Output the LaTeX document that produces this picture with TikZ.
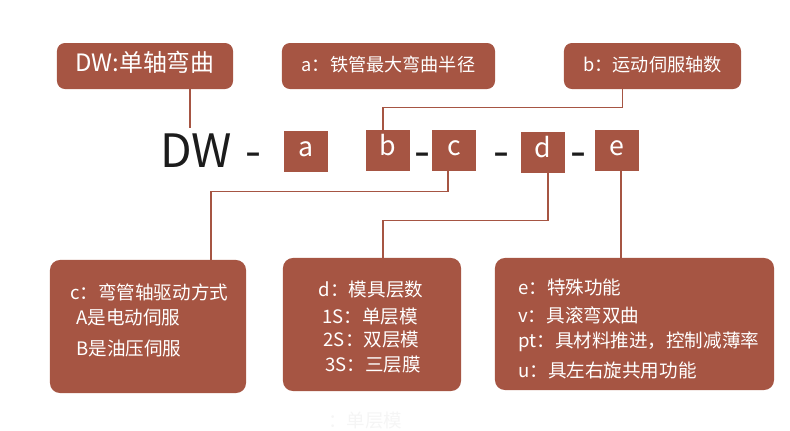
\documentclass[tikz,border=0pt]{standalone}
\usepackage{fontspec}
\setmainfont{Noto Sans CJK SC}
\definecolor{brick}{RGB}{166,85,67}
\definecolor{ink}{RGB}{28,28,28}
\tikzset{
  tag/.style={fill=brick, rounded corners=0.2cm, text=white, inner sep=0pt,
    minimum height=1.15cm, text height=0.88em, text depth=0.12em,
    font=\fontsize{12.9pt}{15pt}\selectfont},
  letter/.style={fill=brick, text=white, inner sep=0pt, minimum width=1.1cm,
    minimum height=1.025cm, text height=0.88em, text depth=0.12em,
    font=\fontsize{19pt}{22pt}\selectfont},
  code/.style={text=ink, inner sep=0pt, anchor=base, font=\fontsize{32.7pt}{36pt}\selectfont},
  panel/.style={fill=brick, rounded corners=0.25cm, inner sep=0pt},
  line/.style={text=white, inner sep=0pt, font=\fontsize{13.2pt}{15pt}\selectfont},
  link/.style={draw=brick, line width=0.8pt},
}
\begin{document}
\begin{tikzpicture}[x=0.025cm, y=-0.025cm]
\useasboundingbox (0,0) rectangle (790,430);
% title tags
\node[tag, minimum width=4.4cm, font=\fontsize{17pt}{20pt}\selectfont] (dwtag) at (145,66) {DW:单轴弯曲};
\node[tag, minimum width=5.325cm] (atag) at (388.5,66) {a：铁管最大弯曲半径};
\node[tag, minimum width=4.425cm] (btag) at (652.5,66) {b：运动伺服轴数};
% model code
\node[code] (dw) at (196,167) {DW};
\node[code] (dash1) at (253,167) {-};
\node[code] (dash2) at (422.5,167) {-};
\node[code] (dash3) at (501.5,167) {-};
\node[code] (dash4) at (578.5,167) {-};
\node[letter] (a) at (306,151.5) {a};
\node[letter] (b) at (388,150.5) {b};
\node[letter] (c) at (454,150.5) {c};
\node[letter] (d) at (543,152.5) {d};
\node[letter] (e) at (617,150.5) {e};
% description panels
\node[panel, minimum width=4.9cm, minimum height=3.325cm] (cpanel) at (148,326.5) {};
\node[panel, minimum width=4.45cm, minimum height=3.325cm] (dpanel) at (372,324.5) {};
\node[panel, minimum width=6.975cm, minimum height=3.3cm] (epanel) at (634.5,324) {};
\node[line, anchor=base west] (c1) at (70,299) {c：弯管轴驱动方式};
\node[line, anchor=base west] (c2) at (76,324) {A是电动伺服};
\node[line, anchor=base west] (c3) at (76,355) {B是油压伺服};
\node[line, anchor=base] (d1) at (371,296) {d：模具层数};
\node[line, anchor=base] (d2) at (370,323) {1S：单层模};
\node[line, anchor=base] (d3) at (371.5,346) {2S：双层模};
\node[line, anchor=base] (d4) at (373,371) {3S：三层膜};
\node[line, anchor=base west] (e1) at (518,294) {e：特殊功能};
\node[line, anchor=base west] (e2) at (518,322) {v：具滚弯双曲};
\node[line, anchor=base west] (e3) at (518,347) {pt：具材料推进，控制减薄率};
\node[line, anchor=base west] (e4) at (518,377) {u：具左右旋共用功能};
\node[line, anchor=base west, text=black!4] (ghost) at (328,427) {：单层模};
% connectors
\coordinate (dwend) at (190,128);
\draw[link] (dwtag.south -| dwend) -- (dwend);
\draw[link] ([xshift=-0.75cm]btag.south) -- ++(0,18) -| ([xshift=-0.125cm]b.north);
\draw[link] ([xshift=-0.15cm]c.south) -- ++(0,20) -| ([xshift=1.575cm]cpanel.north);
\draw[link] ([xshift=0.125cm]d.south) -- ++(0,47) -| ([xshift=0.275cm]dpanel.north);
\draw[link] ([xshift=0.1cm]e.south) -- ([xshift=0.1cm]e.south |- epanel.north);
\end{tikzpicture}
\end{document}
